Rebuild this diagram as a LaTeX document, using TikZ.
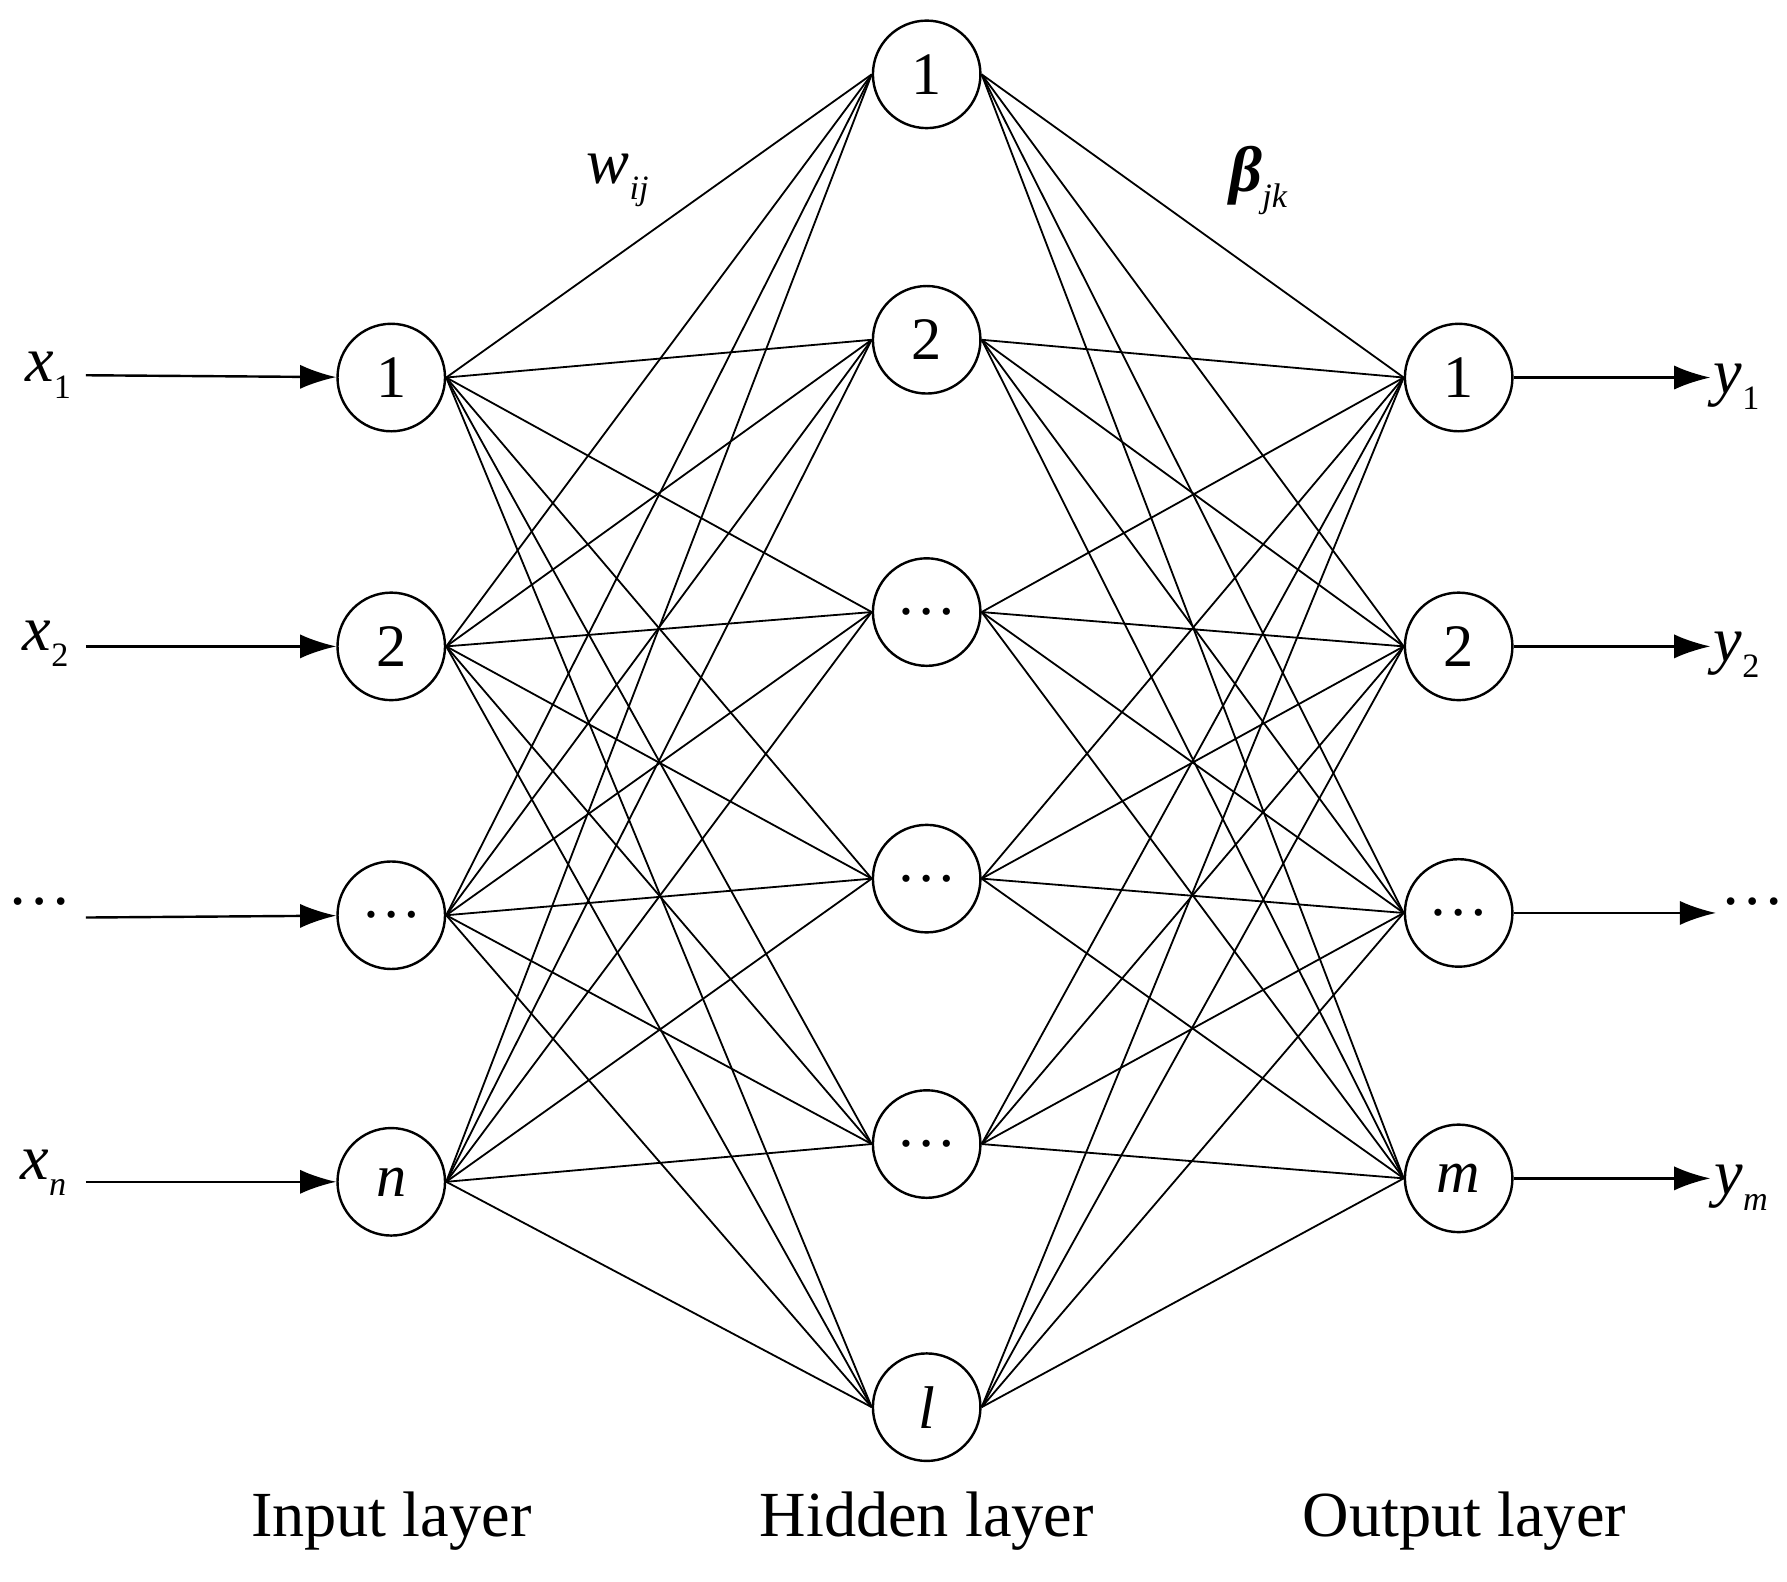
\documentclass[tikz,border=0pt]{standalone}
\usepackage{fontspec}
\setmainfont{Liberation Serif}
\usetikzlibrary{arrows.meta}
\newcommand{\vsub}[2]{\textit{#1}\raisebox{-0.25em}{\fontsize{17}{20}\selectfont #2}}
\begin{document}
\begin{tikzpicture}[x=0.02cm,y=-0.02cm,
  neuron/.style={circle,draw,line width=1.2pt,minimum size=1.88cm,inner sep=0pt,font=\fontsize{30}{36}\selectfont},
  lbl/.style={font=\fontsize{32}{38}\selectfont},
  edge/.style={line width=0.9pt},
  io/.style={line width=1.2pt,-{Latex[length=18pt,width=12pt]}}]
\useasboundingbox (0,0) rectangle (1562,1382);
\node[neuron] (i1) at (342,330) {1};
\node[neuron] (i2) at (342,565) {2};
\node[neuron] (i3) at (342,800) {\dots};
\node[neuron] (i4) at (342,1033) {\textit{n}};
\node[neuron] (h1) at (810,65) {1};
\node[neuron] (h2) at (810,297) {2};
\node[neuron] (h3) at (810,535) {\dots};
\node[neuron] (h4) at (810,768) {\dots};
\node[neuron] (h5) at (810,1000) {\dots};
\node[neuron] (h6) at (810,1230) {\textit{l}};
\node[neuron] (o1) at (1275,330) {1};
\node[neuron] (o2) at (1275,565) {2};
\node[neuron] (o3) at (1275,798) {\dots};
\node[neuron] (o4) at (1275,1030) {\textit{m}};
\foreach \i in {1,...,4}{\foreach \h in {1,...,6}{\draw[edge] (i\i.east) -- (h\h.west);}}
\foreach \o in {1,...,4}{\foreach \h in {1,...,6}{\draw[edge] (h\h.east) -- (o\o.west);}}
\node[lbl] (x1) at (42,328) {\vsub{x}{1}};
\node[lbl] (x2) at (40,563) {\vsub{x}{2}};
\node[lbl] (x3) at (35,788) {\dots};
\node[lbl] (x4) at (38,1025) {\vsub{x}{\textit{n}}};
\coordinate (a1) at (75,328); \coordinate (a2) at (75,565);
\coordinate (a3) at (75,802); \coordinate (a4) at (75,1033);
\foreach \k in {1,...,4}{\draw[io] (a\k) -- (i\k);}
\node[lbl] (y1) at (1518,338) {\vsub{y}{1}};
\node[lbl] (y2) at (1518,572) {\vsub{y}{2}};
\node[lbl] (y3) at (1532,788) {\dots};
\node[lbl] (y4) at (1522,1038) {\vsub{y}{\textit{m}}};
\coordinate (b1) at (1495,330); \coordinate (b2) at (1495,565);
\coordinate (b3) at (1500,798); \coordinate (b4) at (1495,1030);
\foreach \k in {1,...,4}{\draw[io] (o\k) -- (b\k);}
\node[lbl] (w) at (540,158) {\vsub{w}{\textit{ij}}};
\node[lbl] (beta) at (1100,158) {\textbf{\textit{β}}\raisebox{-0.25em}{\fontsize{17}{20}\selectfont\textit{jk}}};
\node[lbl] (L1) at (342,1330) {Input layer};
\node[lbl] (L2) at (810,1330) {Hidden layer};
\node[lbl] (L3) at (1280,1330) {Output layer};
\end{tikzpicture}
\end{document}
